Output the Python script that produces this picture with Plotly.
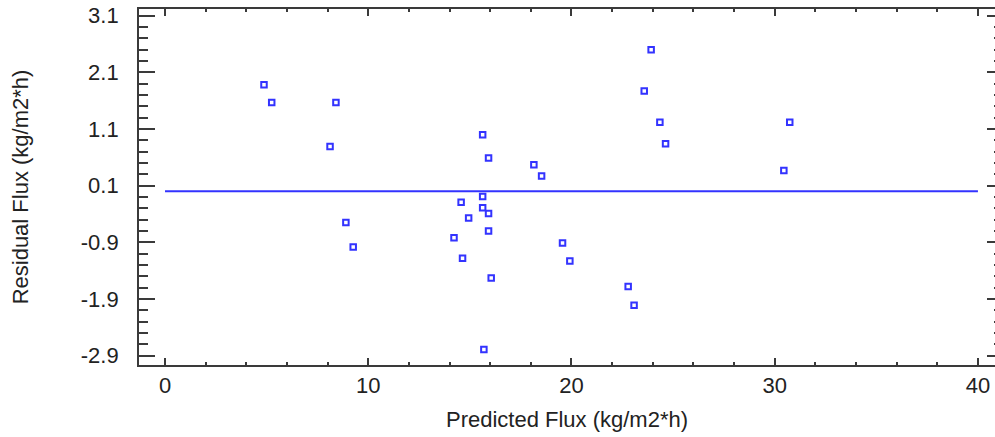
import plotly.graph_objects as go

# Data
predicted_flux = [4.87, 5.25, 8.41, 8.12, 8.90, 9.26, 15.63, 15.92, 18.15, 18.53,
                  15.63, 14.57, 15.63, 15.92, 14.94, 15.92, 14.22, 19.56, 14.64, 19.92,
                  16.05, 15.69, 23.92, 23.58, 24.35, 24.63, 22.79, 23.08, 30.74, 30.45]
residual_flux = [1.88, 1.57, 1.57, 0.79, -0.55, -0.98, 1.00, 0.59, 0.47, 0.27,
                 -0.09, -0.19, -0.29, -0.39, -0.47, -0.70, -0.82, -0.91, -1.18, -1.23,
                 -1.53, -2.79, 2.50, 1.77, 1.22, 0.84, -1.68, -2.01, 1.22, 0.37]

zero_line_x = [0, 40]
zero_line_y = [0, 0]

x_tick_vals = [0, 10, 20, 30, 40]
x_tick_text = ["0", "10", "20", "30", "40"]
y_tick_vals = [-2.9, -1.9, -0.9, 0.1, 1.1, 2.1, 3.1]
y_tick_text = ["-2.9", "-1.9", "-0.9", "0.1", "1.1", "2.1", "3.1"]

BLUE = "#3333ff"
AXIS = "#3a3a3a"
FONT = "Liberation Sans, Arial, sans-serif"

fig = go.Figure()
fig.add_trace(go.Scatter(x=zero_line_x, y=zero_line_y, mode="lines",
                         line=dict(color=BLUE, width=2), hoverinfo="skip",
                         showlegend=False))
fig.add_trace(go.Scatter(x=predicted_flux, y=residual_flux, mode="markers",
                         marker=dict(symbol="square-open", size=5.5, color=BLUE,
                                     line=dict(color=BLUE, width=2)),
                         showlegend=False))
# invisible trace to anchor right-side tick stubs
fig.add_trace(go.Scatter(x=[None], y=[None], yaxis="y2", showlegend=False,
                         hoverinfo="skip"))

fig.update_layout(
    width=995, height=437,
    margin=dict(l=139, r=0, t=9, b=72),
    paper_bgcolor="white", plot_bgcolor="white",
    font=dict(family=FONT, size=22, color="#222222"),
    xaxis=dict(
        range=[-1.28, 40.84], automargin=False,
        tickmode="array", tickvals=x_tick_vals, ticktext=x_tick_text,
        ticks="inside", ticklen=7, tickwidth=1.5, tickcolor=AXIS,
        minor=dict(tickmode="linear", tick0=0, dtick=2, ticks="inside",
                   ticklen=3, tickwidth=1.5, tickcolor=AXIS),
        showline=True, linecolor=AXIS, linewidth=1.8, mirror="ticks",
        showgrid=False, zeroline=False,
        ticklabelstandoff=0,
        title=dict(text="Predicted Flux (kg/m2*h)", standoff=14,
                   font=dict(size=22)),
        tickfont=dict(size=22),
    ),
    yaxis=dict(
        range=[-3.064, 3.218], automargin=False,
        tickmode="array", tickvals=y_tick_vals, ticktext=y_tick_text,
        ticks="inside", ticklen=16, tickwidth=1.5, tickcolor=AXIS,
        minor=dict(tickmode="linear", tick0=0.1, dtick=0.2, ticks="inside",
                   ticklen=9, tickwidth=1.5, tickcolor=AXIS),
        showline=True, linecolor=AXIS, linewidth=1.8, mirror=False,
        showgrid=False, zeroline=False,
        ticklabelstandoff=14,
        title=dict(text="Residual Flux (kg/m2*h)", standoff=46,
                   font=dict(size=22)),
        tickfont=dict(size=22),
    ),
    yaxis2=dict(
        overlaying="y", side="right", matches="y", automargin=False,
        tickmode="array", tickvals=y_tick_vals, showticklabels=False,
        ticks="inside", ticklen=8, tickwidth=1.5, tickcolor=AXIS,
        minor=dict(tickmode="linear", tick0=0.1, dtick=0.2, ticks="inside",
                   ticklen=1.5, tickwidth=1.5, tickcolor=AXIS),
        showline=False, showgrid=False, zeroline=False,
    ),
)

fig.write_html("out.html", config={"displayModeBar": False},
               post_script="document.body.style.margin='0';")
